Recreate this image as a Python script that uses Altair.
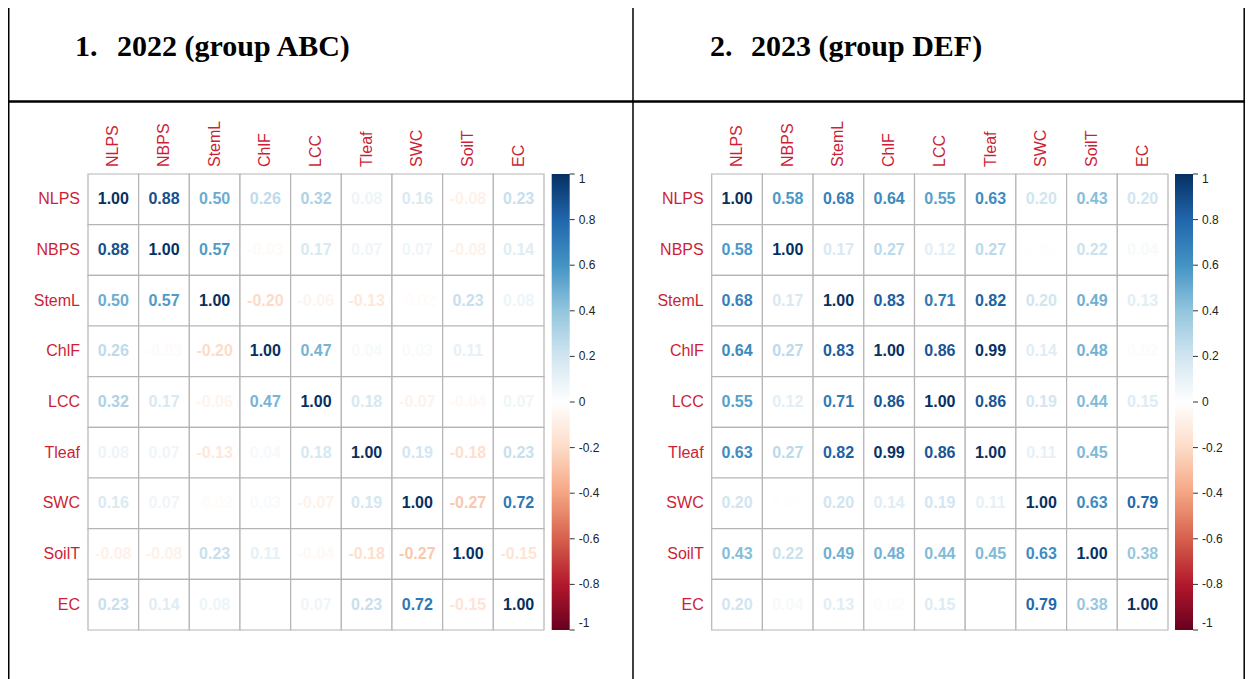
import altair as alt
import pandas as pd

variables = ["NLPS", "NBPS", "StemL", "ChlF", "LCC", "Tleaf", "SWC", "SoilT", "EC"]

corr_2022 = [
    [1.00, 0.88, 0.50, 0.26, 0.32, 0.08, 0.16, -0.08, 0.23],
    [0.88, 1.00, 0.57, -0.03, 0.17, 0.07, 0.07, -0.08, 0.14],
    [0.50, 0.57, 1.00, -0.20, -0.06, -0.13, -0.02, 0.23, 0.08],
    [0.26, -0.03, -0.20, 1.00, 0.47, 0.04, 0.03, 0.11, 0.00],
    [0.32, 0.17, -0.06, 0.47, 1.00, 0.18, -0.07, -0.04, 0.07],
    [0.08, 0.07, -0.13, 0.04, 0.18, 1.00, 0.19, -0.18, 0.23],
    [0.16, 0.07, -0.02, 0.03, -0.07, 0.19, 1.00, -0.27, 0.72],
    [-0.08, -0.08, 0.23, 0.11, -0.04, -0.18, -0.27, 1.00, -0.15],
    [0.23, 0.14, 0.08, 0.00, 0.07, 0.23, 0.72, -0.15, 1.00],
]

corr_2023 = [
    [1.00, 0.58, 0.68, 0.64, 0.55, 0.63, 0.20, 0.43, 0.20],
    [0.58, 1.00, 0.17, 0.27, 0.12, 0.27, 0.01, 0.22, 0.04],
    [0.68, 0.17, 1.00, 0.83, 0.71, 0.82, 0.20, 0.49, 0.13],
    [0.64, 0.27, 0.83, 1.00, 0.86, 0.99, 0.14, 0.48, 0.02],
    [0.55, 0.12, 0.71, 0.86, 1.00, 0.86, 0.19, 0.44, 0.15],
    [0.63, 0.27, 0.82, 0.99, 0.86, 1.00, 0.11, 0.45, 0.00],
    [0.20, 0.01, 0.20, 0.14, 0.19, 0.11, 1.00, 0.63, 0.79],
    [0.43, 0.22, 0.49, 0.48, 0.44, 0.45, 0.63, 1.00, 0.38],
    [0.20, 0.04, 0.13, 0.02, 0.15, 0.00, 0.79, 0.38, 1.00],
]

panel_numbers = ["1.", "2."]
panel_titles = ["2022 (group ABC)", "2023 (group DEF)"]
legend_ticks = [1, 0.8, 0.6, 0.4, 0.2, 0, -0.2, -0.4, -0.6, -0.8, -1]

# corrplot RdBu palette stops, from -1 to 1
palette_stops = [-1, -0.8, -0.6, -0.4, -0.2, 0, 0.2, 0.4, 0.6, 0.8, 1]
palette_colors = ["#67001F", "#B2182B", "#D6604D", "#F4A582", "#FDDBC7", "#FFFFFF",
                  "#D1E5F0", "#92C5DE", "#4393C3", "#2166AC", "#053061"]

RED = "#cc1f36"
GRID = "#b5b5b5"
SANS = "Liberation Sans"
SERIF = "Liberation Serif"


def to_long(mat):
    recs = []
    for i, r in enumerate(variables):
        for j, c in enumerate(variables):
            v = mat[i][j]
            recs.append({"row": r, "col": c, "value": v, "label": f"{v:.2f}"})
    return pd.DataFrame(recs)


def panel(mat, x0, x1, y0, y1, lx):
    df = to_long(mat)
    xsc = alt.Scale(domain=variables, range=[x0, x1], paddingInner=0, paddingOuter=0)
    ysc = alt.Scale(domain=variables, range=[y0, y1], paddingInner=0, paddingOuter=0)
    X = alt.X("col:N", scale=xsc, axis=None)
    Y = alt.Y("row:N", scale=ysc, axis=None)
    base = alt.Chart(df)
    cells = base.mark_rect(fill="white", stroke=GRID, strokeWidth=1.2).encode(x=X, y=Y)
    nums = base.mark_text(font=SANS, fontWeight="bold", fontSize=16).encode(
        x=X,
        y=Y,
        text="label:N",
        color=alt.Color(
            "value:Q",
            title=None,
            scale=alt.Scale(domain=palette_stops, range=palette_colors, interpolate="rgb"),
            legend=alt.Legend(
                orient="none",
                legendX=lx,
                legendY=y0,
                direction="vertical",
                gradientLength=y1 - y0,
                gradientThickness=18,
                gradientStrokeWidth=0,
                values=legend_ticks,
                labelFontSize=12,
                labelFont=SANS,
                labelColor="#222222",
                labelOffset=9,
                labelOverlap=False,
                padding=0,
                labelExpr="toString(datum.value)",
            ),
        ),
    )
    lab = pd.DataFrame({"col": variables, "row": variables})
    collab = alt.Chart(lab).mark_text(
        angle=270, align="left", baseline="middle", font=SANS, fontSize=16, color=RED
    ).encode(x=X, y=alt.value(y0 - 7), text="col:N")
    rowlab = alt.Chart(lab).mark_text(
        align="right", baseline="middle", font=SANS, fontSize=16, color=RED
    ).encode(x=alt.value(x0 - 8), y=Y, text="row:N")
    ticks = alt.Chart(pd.DataFrame({"t": legend_ticks})).mark_rule(
        color="#333333", strokeWidth=1
    ).encode(
        y=alt.Y("t:Q", scale=alt.Scale(domain=[-1, 1], range=[y1, y0], nice=False, zero=False), axis=None),
        x=alt.value(lx + 18),
        x2=alt.value(lx + 23),
    )
    return alt.layer(cells, nums, collab, rowlab), ticks


p1, t1 = panel(corr_2022, 80, 536, 166, 622, 543.7)
p2, t2 = panel(corr_2023, 703.7, 1160, 166, 622, 1167)

one = pd.DataFrame({"k": [0]})


def title_marks(i, xn, xt):
    d = pd.DataFrame({"num": [panel_numbers[i]], "title": [panel_titles[i]]})
    num = alt.Chart(d).mark_text(
        font=SERIF, fontWeight="bold", fontSize=30, align="left", baseline="middle", color="black"
    ).encode(x=alt.value(xn), y=alt.value(39), text="num:N")
    ttl = alt.Chart(d).mark_text(
        font=SERIF, fontWeight="bold", fontSize=30, align="left", baseline="middle", color="black"
    ).encode(x=alt.value(xt), y=alt.value(39), text="title:N")
    return num, ttl


n1, tt1 = title_marks(0, 67, 109)
n2, tt2 = title_marks(1, 702, 743)

H = 671

hline = alt.Chart(one).mark_rule(color="black", strokeWidth=2.5).encode(
    x=alt.value(0), x2=alt.value(1237), y=alt.value(93.5)
)
vmid = alt.Chart(one).mark_rule(color="black", strokeWidth=1.5).encode(
    x=alt.value(625), y=alt.value(0), y2=alt.value(H)
)
vleft = alt.Chart(one).mark_rule(color="black", strokeWidth=1.5).encode(
    x=alt.value(0.75), y=alt.value(0), y2=alt.value(H)
)
vright = alt.Chart(one).mark_rule(color="black", strokeWidth=1.5).encode(
    x=alt.value(1236.2), y=alt.value(0), y2=alt.value(H)
)

chart = (
    alt.layer(p1, t1, p2, t2, n1, tt1, n2, tt2, hline, vmid, vleft, vright)
    .resolve_scale(x="independent", y="independent", color="independent")
    .resolve_legend(color="independent")
    .properties(width=1237, height=H, autosize=alt.AutoSizeParams(type="none"), padding=0)
    .configure_view(stroke="transparent")
)

chart.save("out.html", embed_options={"renderer": "svg", "actions": False})
